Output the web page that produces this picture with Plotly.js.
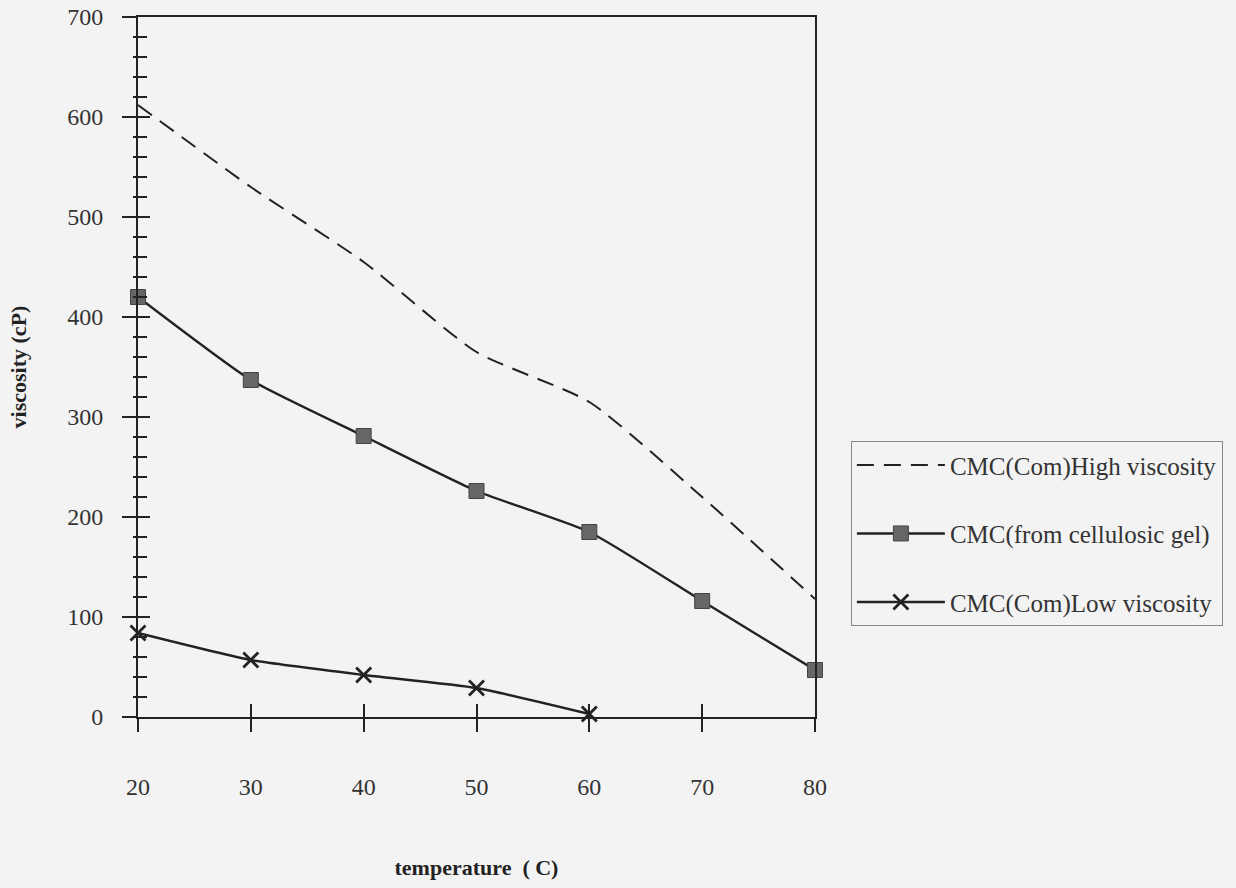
<!DOCTYPE html>
<html>
<head>
<meta charset="utf-8">
<script src="https://cdn.plot.ly/plotly-3.0.1.min.js"></script>
<style>html,body{margin:0;padding:0;background:#f3f3f3;}#chart{width:1236px;height:888px;}</style>
</head>
<body>
<div id="chart"></div>
<script>
const temperature = [20, 30, 40, 50, 60, 70, 80];
const highViscosity = [612, 530, 455, 365, 315, 220, 118];
const cellulosicGel = [420, 337, 281, 226, 185, 116, 47];
const lowTemperature = [20, 30, 40, 50, 60];
const lowViscosity = [84, 57, 42, 29, 3];
const xTicks = [20, 30, 40, 50, 60, 70, 80];
const yTicks = [0, 100, 200, 300, 400, 500, 600, 700];

const ink = '#222';
const fontFam = '"Liberation Serif", "Times New Roman", serif';

const traces = [
  {x: temperature, y: highViscosity, name: 'CMC(Com)High viscosity', mode: 'lines', legendgroup: 'a',
   cliponaxis: false,
   line: {color: ink, width: 2, dash: '17px,10px', shape: 'spline', smoothing: 0.6}},
  {x: temperature, y: cellulosicGel, name: 'CMC(from cellulosic gel)', mode: 'lines+markers', legendgroup: 'b',
   cliponaxis: false,
   line: {color: ink, width: 2.4, shape: 'spline', smoothing: 0.5},
   marker: {symbol: 'square', size: 15, color: '#666', line: {color: '#444', width: 1}}},
  {x: lowTemperature, y: lowViscosity, name: 'CMC(Com)Low viscosity', mode: 'lines+markers', legendgroup: 'c',
   cliponaxis: false,
   line: {color: ink, width: 2.4, shape: 'spline', smoothing: 0.5},
   marker: {symbol: 'x-thin', size: 15, color: ink, line: {color: ink, width: 2.8}}},
  // overlay axes to draw ticks on the inside as well
  {x: [20, 80], y: [0, 0], xaxis: 'x2', yaxis: 'y2', mode: 'lines', showlegend: false,
   hoverinfo: 'skip', line: {width: 0, color: 'rgba(0,0,0,0)'}}
];

const layout = {
  width: 1236, height: 888,
  paper_bgcolor: '#f3f3f3', plot_bgcolor: '#f3f3f3',
  margin: {l: 138, r: 421, t: 17, b: 171},
  font: {family: fontFam, color: '#333', size: 24},
  showlegend: true,
  legend: {x: 1.053, y: 0.394, xanchor: 'left', yanchor: 'top',
           bgcolor: 'rgba(0,0,0,0)', bordercolor: '#888', borderwidth: 1,
           font: {family: fontFam, size: 25, color: '#333'},
           tracegroupgap: 33, itemwidth: 88},
  xaxis: {range: [20, 80], tickvals: xTicks, ticktext: xTicks.map(String),
          showgrid: false, zeroline: false, showline: true, linecolor: ink, linewidth: 2,
          mirror: true, ticks: 'outside', ticklen: 13, tickwidth: 2, tickcolor: ink,
          ticklabelstandoff: 34, tickfont: {size: 24, color: '#333'},
          title: {text: '<b>temperature  ( C)</b>', font: {size: 22, color: '#222'}, standoff: 61}},
  yaxis: {range: [0, 700], tickvals: yTicks, ticktext: yTicks.map(String),
          showgrid: false, zeroline: false, showline: true, linecolor: ink, linewidth: 2,
          mirror: true, ticks: 'outside', ticklen: 14, tickwidth: 2, tickcolor: ink,
          minor: {dtick: 20, ticks: 'outside', ticklen: 3, tickwidth: 2, tickcolor: ink},
          ticklabelstandoff: 14, tickfont: {size: 24, color: '#333'},
          title: {text: '<b>viscosity (cP)</b>', font: {size: 22, color: '#222'}, standoff: 35}},
  xaxis2: {overlaying: 'x', range: [20, 80], tickvals: xTicks, showticklabels: false,
           showgrid: false, zeroline: false, showline: false, side: 'bottom',
           ticks: 'inside', ticklen: 13, tickwidth: 2, tickcolor: ink, anchor: 'y2'},
  yaxis2: {overlaying: 'y', range: [0, 700], tickvals: yTicks, showticklabels: false,
           showgrid: false, zeroline: false, showline: false, side: 'left',
           ticks: 'inside', ticklen: 12, tickwidth: 2, tickcolor: ink,
           minor: {dtick: 20, ticks: 'inside', ticklen: 9, tickwidth: 2, tickcolor: ink}, anchor: 'x2'}
};

Plotly.newPlot('chart', traces, layout, {displayModeBar: false, staticPlot: true});
</script>
</body>
</html>
